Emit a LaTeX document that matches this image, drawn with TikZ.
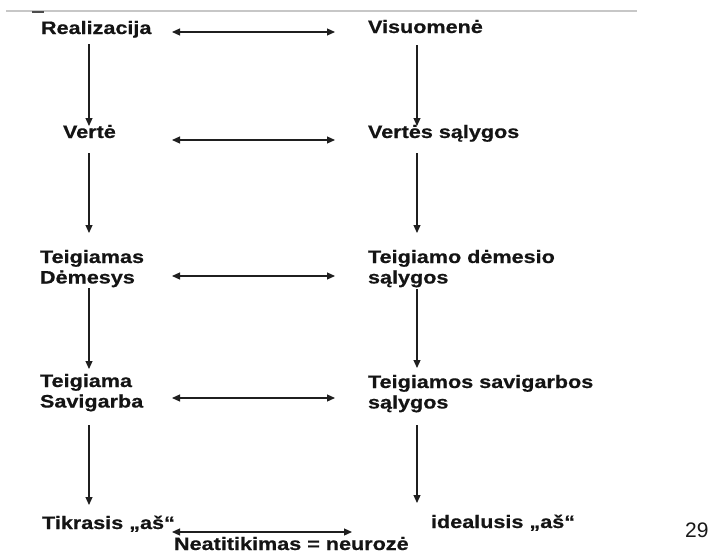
\documentclass[tikz,border=0pt]{standalone}
\usepackage{fontspec}
\newfontfamily\dfont[FakeStretch=1.2,FakeBold=0.6]{Liberation Sans Bold}
\newfontfamily\nfont{Liberation Sans}
\usetikzlibrary{arrows.meta,calc}
\begin{document}
\begin{tikzpicture}[x=1pt,y=-1pt,
  lbl/.style={inner sep=0pt, outer sep=0pt, anchor=base west, text=black!92,
    font=\dfont\fontsize{18}{20.5}\selectfont},
  lbltwo/.style={lbl, align=left, text width=#1},
  arr/.style={line width=1.2pt, draw=black!88, -{Triangle[length=8pt,width=7pt]}},
  harr/.style={line width=1.2pt, draw=black!88, {Triangle[length=8pt,width=7pt]}-{Triangle[length=8pt,width=7pt]}}]
\useasboundingbox (0,0) rectangle (713,557);
\fill[white] (0,0) rectangle (713,557);
% top rule
\draw[line width=2pt, black!22] (6,11) -- (637,11);
\draw[line width=1.6pt, black!70] (32,12) -- (44,12);
% column coordinates
\coordinate (cL) at (89,0);
\coordinate (cR) at (417,0);
\coordinate (hL) at (172,0);
\coordinate (hR) at (335,0);
\coordinate (hRb) at (352,0);
% nodes
\node[lbl] (real) at (41,34) {Realizacija};
\node[lbl] (visu) at (368,33) {Visuomenė};
\node[lbl] (verte) at (63,138) {Vertė};
\node[lbl] (vsal) at (368,138) {Vertės sąlygos};
\node[lbltwo=130pt] (tdem) at (40,263) {Teigiamas\\Dėmesys};
\node[lbltwo=250pt] (tdsal) at (368,263) {Teigiamo dėmesio\\sąlygos};
\node[lbltwo=130pt] (tsav) at (40,387) {Teigiama\\Savigarba};
\node[lbltwo=250pt] (tssal) at (368,388) {Teigiamos savigarbos\\sąlygos};
\node[lbl] (tikr) at (42,529) {Tikrasis „aš“};
\node[lbl] (ideal) at (431,528) {idealusis „aš“};
\node[lbl] (neat) at (174,550) {Neatitikimas = neurozė};
\node[inner sep=0pt, anchor=base west, text=black!90, font=\nfont\fontsize{21}{24}\selectfont] (num) at (685,537) {29};
% vertical arrows, left column
\draw[arr] ($(real.base west -| cL)+(0,10)$) -- ($(verte.base west -| cL)+(0,-12)$);
\draw[arr] ($(verte.base west -| cL)+(0,15)$) -- ($(tdem.base west -| cL)+(0,-30)$);
\draw[arr] ($(tdem.base west -| cL)+(0,25)$) -- ($(tsav.base west -| cL)+(0,-18)$);
\draw[arr] ($(tsav.base west -| cL)+(0,38)$) -- ($(tikr.base west -| cL)+(0,-24)$);
% vertical arrows, right column
\draw[arr] ($(visu.base west -| cR)+(0,12)$) -- ($(vsal.base west -| cR)+(0,-12)$);
\draw[arr] ($(vsal.base west -| cR)+(0,15)$) -- ($(tdsal.base west -| cR)+(0,-30)$);
\draw[arr] ($(tdsal.base west -| cR)+(0,26)$) -- ($(tssal.base west -| cR)+(0,-20)$);
\draw[arr] ($(tssal.base west -| cR)+(0,37)$) -- ($(ideal.base west -| cR)+(0,-25)$);
% horizontal double arrows
\draw[harr] ($(real.base west -| hL)+(0,-2)$) -- ($(visu.base west -| hR)+(0,-1)$);
\draw[harr] ($(verte.base west -| hL)+(0,2)$) -- ($(vsal.base west -| hR)+(0,2)$);
\draw[harr] ($(tdem.base west -| hL)+(0,13)$) -- ($(tdsal.base west -| hR)+(0,13)$);
\draw[harr] ($(tsav.base west -| hL)+(0,11)$) -- ($(tssal.base west -| hR)+(0,10)$);
\draw[harr] ($(tikr.base west -| hL)+(0,3)$) -- ($(ideal.base west -| hRb)+(0,4)$);
\end{tikzpicture}
\end{document}
